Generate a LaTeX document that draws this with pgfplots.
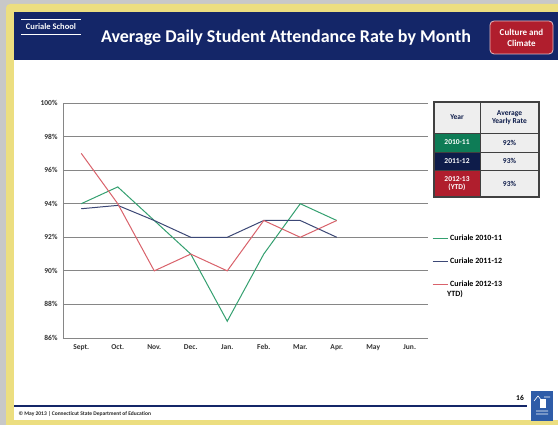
\documentclass[border=0pt]{standalone}
\usepackage{fontspec}
\setmainfont{Carlito}[Ligatures=CommonOff]
\usepackage{pgfplots}
\pgfplotsset{compat=1.18}

\definecolor{bggrey}{RGB}{200,200,200}
\definecolor{frameyellow}{RGB}{236,222,128}
\definecolor{headblue}{RGB}{20,38,104}
\definecolor{boxred}{RGB}{176,30,45}
\definecolor{tabgreen}{RGB}{14,124,86}
\definecolor{tabnavy}{RGB}{14,28,74}
\definecolor{cellgrey}{RGB}{238,238,238}
\definecolor{gridgrey}{RGB}{134,134,134}
\definecolor{lgreen}{RGB}{52,160,112}
\definecolor{lnavy}{RGB}{60,72,118}
\definecolor{lred}{RGB}{217,98,107}
\definecolor{logoblue}{RGB}{46,92,168}

\begin{document}
\begin{tikzpicture}[x=1pt,y=1pt]
\useasboundingbox (0,0) rectangle (558,425);
% slide frame
\fill[bggrey] (0,0) rectangle (558,425);
\fill[frameyellow, rounded corners=4pt] (6,-6) rectangle (566,421);
\fill[white] (14,5) rectangle (558,413);
\fill[headblue] (14,365) rectangle (558,413);

% header
\draw[white, line width=0.8pt] (21,406) -- (81,406);
\draw[white, line width=0.8pt] (21,391) -- (81,391);
\node[white, font=\fontsize{8.5}{9}\selectfont\bfseries] at (51,398.5) {Curiale School};
\node[white, font=\fontsize{18}{20}\selectfont\bfseries] at (286,387) {Average Daily Student Attendance Rate by Month};
\draw[fill=boxred, draw=white!70!boxred, line width=0.8pt, rounded corners=4pt] (490,371) rectangle (553,404);
\node[white, align=center, font=\fontsize{9}{11}\selectfont\bfseries] at (521.5,387.5) {Culture and\\Climate};

% chart
\begin{axis}[
    at={(63pt,87pt)}, anchor=south west,
    width=365pt, height=235pt, scale only axis,
    xmin=-0.5, xmax=9.5,
    ymin=86, ymax=100,
    xtick={0,...,9},
    xticklabels={Sept.,Oct.,Nov.,Dec.,Jan.,Feb.,Mar.,Apr.,May,Jun.},
    ytick={86,88,...,100},
    yticklabel={\pgfmathprintnumber{\tick}\%},
    /pgf/number format/assume math mode=true,
    axis lines=left,
    axis line style={-, draw=gridgrey, line width=0.8pt},
    ymajorgrids,
    grid style={gridgrey, line width=0.8pt},
    major tick length=0pt,
    tick label style={font=\fontsize{7.5}{8}\selectfont\bfseries, text=black!80},
    x tick label style={text height=5.5pt, text depth=1.5pt, yshift=-2pt},
    y tick label style={xshift=-2pt},
    legend cell align=left,
    legend style={draw=none, fill=none, inner sep=0pt,
        at={(axis description cs:1.011,0.45)}, anchor=north west,
        font=\fontsize{8}{9}\selectfont\bfseries, row sep=12pt},
    legend image code/.code={\draw[#1] (0pt,0pt) -- (15pt,0pt);},
]
\addplot[lgreen, line width=1pt] coordinates {
    (0,94) (1,95) (2,93) (3,91) (4,87) (5,91) (6,94) (7,93)};
\addlegendentry{Curiale 2010-11}
\addplot[lnavy, line width=1pt] coordinates {
    (0,93.7) (1,93.9) (2,93) (3,92) (4,92) (5,93) (6,93) (7,92)};
\addlegendentry{Curiale 2011-12}
\addplot[lred, line width=1pt] coordinates {
    (0,97) (1,94) (2,90) (3,91) (4,90) (5,93) (6,92) (7,93)};
\addlegendentry{\rlap{\hspace*{-3pt}\smash{\raisebox{-10.5pt}{YTD)}}}Curiale 2012-13}
\end{axis}

% summary table
\fill[cellgrey] (434,228) rectangle (539,323);
\fill[tabgreen] (434,273) rectangle (480,292);
\fill[tabnavy] (434,255) rectangle (480,273);
\fill[boxred] (434,228) rectangle (480,255);
\draw[black!75, line width=0.6pt] (480,228) -- (480,323)
    (434,292) -- (539,292) (434,273) -- (539,273) (434,255) -- (539,255);
\draw[black!75, line width=1.2pt] (434,228) rectangle (539,323);
\begin{scope}[every node/.style={font=\fontsize{7.5}{8.5}\selectfont\bfseries, align=center}]
\node[tabnavy] at (457,307.5) {Year};
\node[tabnavy] at (509.5,307.5) {Average\\Yearly Rate};
\node[white] at (457,282.5) {2010-11};
\node[white] at (457,264) {2011-12};
\node[white] at (457,241.5) {2012-13\\(YTD)};
\node[tabnavy] at (509.5,282.5) {92\%};
\node[tabnavy] at (509.5,264) {93\%};
\node[tabnavy] at (509.5,241.5) {93\%};
\end{scope}

% footer
\draw[headblue, line width=1.6pt] (14,19) -- (527,19);
\node[anchor=west, black!85, font=\fontsize{5.5}{6}\selectfont\bfseries] at (15,11) {© May 2013 | Connecticut State Department of Education};
\node[black, font=\fontsize{7.5}{8}\selectfont\bfseries] at (520,27) {16};
\fill[logoblue] (531,4) rectangle (553,34);
\draw[white, line width=0.6pt] (534,24) -- (538,29) -- (542,24) (544,28) -- (550,28) (536,14) -- (548,14) (536,11) -- (548,11);
\fill[white] (540,17) rectangle (546,26);
\end{tikzpicture}
\end{document}
